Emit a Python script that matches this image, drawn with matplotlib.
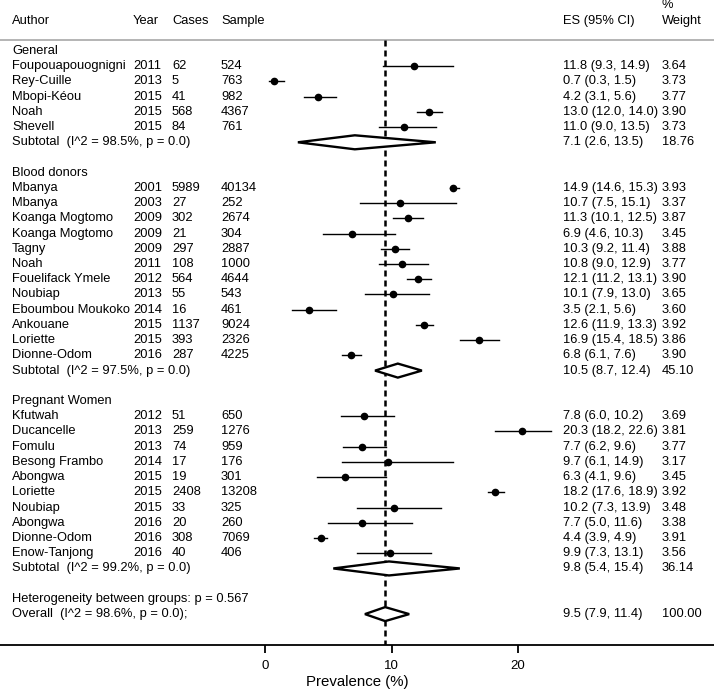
import matplotlib.pyplot as plt
import matplotlib.transforms as mtransforms
import numpy as np

plt.rcParams["font.family"] = ["Liberation Sans", "DejaVu Sans"]

# ---- data -------------------------------------------------------------
groups = ["General", "Blood donors", "Pregnant Women"]

general_author = ["Foupouapouognigni", "Rey-Cuille", "Mbopi-Kéou", "Noah", "Shevell"]
general_year = [2011, 2013, 2015, 2015, 2015]
general_cases = [62, 5, 41, 568, 84]
general_sample = [524, 763, 982, 4367, 761]
general_es = [11.8, 0.7, 4.2, 13.0, 11.0]
general_lo = [9.3, 0.3, 3.1, 12.0, 9.0]
general_hi = [14.9, 1.5, 5.6, 14.0, 13.5]
general_wt = [3.64, 3.73, 3.77, 3.90, 3.73]

blood_author = ["Mbanya", "Mbanya", "Koanga Mogtomo", "Koanga Mogtomo", "Tagny", "Noah",
                "Fouelifack Ymele", "Noubiap", "Eboumbou Moukoko", "Ankouane", "Loriette",
                "Dionne-Odom"]
blood_year = [2001, 2003, 2009, 2009, 2009, 2011, 2012, 2013, 2014, 2015, 2015, 2016]
blood_cases = [5989, 27, 302, 21, 297, 108, 564, 55, 16, 1137, 393, 287]
blood_sample = [40134, 252, 2674, 304, 2887, 1000, 4644, 543, 461, 9024, 2326, 4225]
blood_es = [14.9, 10.7, 11.3, 6.9, 10.3, 10.8, 12.1, 10.1, 3.5, 12.6, 16.9, 6.8]
blood_lo = [14.6, 7.5, 10.1, 4.6, 9.2, 9.0, 11.2, 7.9, 2.1, 11.9, 15.4, 6.1]
blood_hi = [15.3, 15.1, 12.5, 10.3, 11.4, 12.9, 13.1, 13.0, 5.6, 13.3, 18.5, 7.6]
blood_wt = [3.93, 3.37, 3.87, 3.45, 3.88, 3.77, 3.90, 3.65, 3.60, 3.92, 3.86, 3.90]

preg_author = ["Kfutwah", "Ducancelle", "Fomulu", "Besong Frambo", "Abongwa", "Loriette",
               "Noubiap", "Abongwa", "Dionne-Odom", "Enow-Tanjong"]
preg_year = [2012, 2013, 2013, 2014, 2015, 2015, 2015, 2016, 2016, 2016]
preg_cases = [51, 259, 74, 17, 19, 2408, 33, 20, 308, 40]
preg_sample = [650, 1276, 959, 176, 301, 13208, 325, 260, 7069, 406]
preg_es = [7.8, 20.3, 7.7, 9.7, 6.3, 18.2, 10.2, 7.7, 4.4, 9.9]
preg_lo = [6.0, 18.2, 6.2, 6.1, 4.1, 17.6, 7.3, 5.0, 3.9, 7.3]
preg_hi = [10.2, 22.6, 9.6, 14.9, 9.6, 18.9, 13.9, 11.6, 4.9, 13.1]
preg_wt = [3.69, 3.81, 3.77, 3.17, 3.45, 3.92, 3.48, 3.38, 3.91, 3.56]

sub_i2 = [98.5, 97.5, 99.2]
sub_es = [7.1, 10.5, 9.8]
sub_lo = [2.6, 8.7, 5.4]
sub_hi = [13.5, 12.4, 15.4]
sub_wt = [18.76, 45.10, 36.14]

between_p = 0.567
overall_i2 = 98.6
overall_es, overall_lo, overall_hi, overall_wt = 9.5, 7.9, 11.4, 100.00

xticks = [0, 10, 20]

studies = [
    (general_author, general_year, general_cases, general_sample, general_es, general_lo, general_hi, general_wt),
    (blood_author, blood_year, blood_cases, blood_sample, blood_es, blood_lo, blood_hi, blood_wt),
    (preg_author, preg_year, preg_cases, preg_sample, preg_es, preg_lo, preg_hi, preg_wt),
]

# ---- figure -----------------------------------------------------------
W, H = 714, 690
fig = plt.figure(figsize=(W / 100, H / 100), dpi=100)
fig.patch.set_facecolor("white")
ax = fig.add_axes([0, 1 - 645 / H, 1, 645 / H])

px_zero, px_per_unit = 265, 12.65
ax.set_xlim(-px_zero / px_per_unit, (W - px_zero) / px_per_unit)
ax.set_ylim(39.03, -3.35)

tr = mtransforms.blended_transform_factory(ax.transAxes, ax.transData)
FS = 9.3
col_x = {"author": 12, "year": 133, "cases": 172, "sample": 221, "es": 563, "wt": 662}


def put(col, y, s):
    ax.text(col_x[col] / W, y, s, transform=tr, ha="left", va="center", fontsize=FS)


def diamond(y, es, lo, hi, h=0.46):
    ax.fill([lo, es, hi, es, lo], [y, y - h, y, y + h, y], facecolor="white",
            edgecolor="black", lw=1.7, zorder=4, joinstyle="miter")


# header
put("author", -2, "Author")
put("year", -2, "Year")
put("cases", -2, "Cases")
put("sample", -2, "Sample")
put("es", -2, "ES (95% CI)")
put("wt", -3, "%")
put("wt", -2, "Weight")
ax.axhline(-0.72, color="#a8a8a8", lw=1.2)

y = 0
for g, (auth, yr, ca, sa, es, lo, hi, wt) in enumerate(studies):
    put("author", y, groups[g])
    y += 1
    for k in range(len(auth)):
        put("author", y, auth[k])
        put("year", y, str(yr[k]))
        put("cases", y, str(ca[k]))
        put("sample", y, str(sa[k]))
        put("es", y, f"{es[k]:.1f} ({lo[k]:.1f}, {hi[k]:.1f})")
        put("wt", y, f"{wt[k]:.2f}")
        ax.plot([lo[k], hi[k]], [y, y], color="black", lw=1.0, zorder=3)
        ax.plot(es[k], y, "o", color="black", ms=4.5, zorder=5)
        y += 1
    put("author", y, f"Subtotal  (I^2 = {sub_i2[g]:.1f}%, p = 0.0)")
    put("es", y, f"{sub_es[g]:.1f} ({sub_lo[g]:.1f}, {sub_hi[g]:.1f})")
    put("wt", y, f"{sub_wt[g]:.2f}")
    diamond(y, sub_es[g], sub_lo[g], sub_hi[g])
    y += 2

put("author", y, f"Heterogeneity between groups: p = {between_p:.3f}")
y += 1
put("author", y, f"Overall  (I^2 = {overall_i2:.1f}%, p = 0.0);")
put("es", y, f"{overall_es:.1f} ({overall_lo:.1f}, {overall_hi:.1f})")
put("wt", y, f"{overall_wt:.2f}")
diamond(y, overall_es, overall_lo, overall_hi)

# reference line at overall estimate
ax.plot([overall_es, overall_es], [-0.72, 39.03], color="black", lw=1.8,
        dashes=(2.4, 1.6), zorder=2)

for s in ("top", "right", "left"):
    ax.spines[s].set_visible(False)
ax.spines["bottom"].set_linewidth(1.3)
ax.set_yticks([])
ax.set_xticks(xticks)
ax.set_xticklabels([str(t) for t in xticks], fontsize=9.5)
ax.tick_params(axis="x", direction="out", length=6, width=1.3, pad=4.5)
ax.set_xlabel("Prevalence (%)", fontsize=10.8, labelpad=2.5)

fig.savefig("out.png", dpi=100, facecolor="white")
